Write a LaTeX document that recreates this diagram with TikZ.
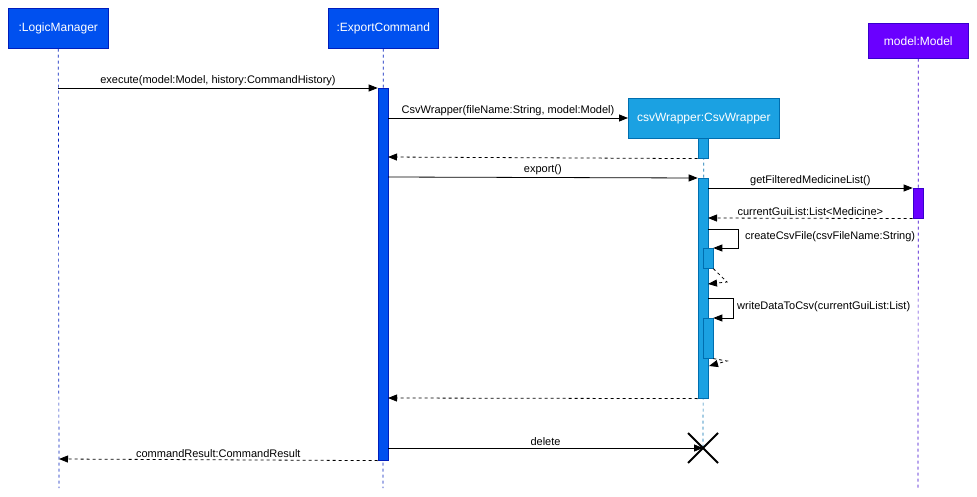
\documentclass[tikz,border=0pt]{standalone}
\usepackage{fontspec}
\setmainfont{Liberation Sans}
\usetikzlibrary{arrows.meta}
\definecolor{bluefill}{HTML}{0050EF}
\definecolor{bluestroke}{HTML}{001DBC}
\definecolor{cyanfill}{HTML}{1BA1E2}
\definecolor{cyanstroke}{HTML}{006EAF}
\definecolor{violetfill}{HTML}{6A00FF}
\definecolor{violetstroke}{HTML}{3700CC}
\begin{document}
\begin{tikzpicture}[x=1pt,y=-1pt,
  objbox/.style={draw=#1stroke,fill=#1fill,line width=0.6pt,text=white,font=\fontsize{12}{14}\selectfont,inner sep=0pt,anchor=north west},
  life/.style={draw=#1stroke,line width=0.7pt,dash pattern=on 3pt off 3pt},
  act/.style={draw=#1stroke,fill=#1fill,line width=0.6pt,inner sep=0pt,minimum width=10pt,anchor=north},
  msg/.style={line width=0.8pt,-{Triangle[length=9pt,width=7pt]}},
  ret/.style={msg,dash pattern=on 3pt off 3pt},
  lbl/.style={font=\fontsize{11}{13}\selectfont,above,inner sep=2pt}
]
\useasboundingbox (0,0) rectangle (977,497);
% object boxes
\node[objbox=blue,minimum width=100pt,minimum height=40pt] (lm) at (8,8) {:LogicManager};
\node[objbox=blue,minimum width=110pt,minimum height=40pt] (ec) at (328,8) {:ExportCommand};
\node[objbox=violet,minimum width=100pt,minimum height=35pt] (md) at (868,23) {model:Model};
\node[objbox=cyan,minimum width=151pt,minimum height=40pt] (cw) at (628,98) {csvWrapper:CsvWrapper};
% lifeline ends
\coordinate (lmend) at (59,488);
\coordinate (ecend) at (383,488);
\coordinate (mdend) at (918,488);
\coordinate (cwend) at (703,448);
\draw[life=blue] (lm.south) -- (lmend);
\draw[life=blue] (ec.south) -- (ecend);
\draw[life=violet] (md.south) -- (mdend);
\draw[life=cyan] (cw.south) -- (cwend);
% activations
\node[act=blue,minimum height=372pt] (ecact) at (383,88) {};
\node[act=cyan,minimum height=20pt] (cwact1) at (703,138) {};
\node[act=cyan,minimum height=220pt] (cwact2) at (703,178) {};
\node[act=violet,minimum height=30pt] (mdact) at (918,188) {};
\node[act=cyan,minimum height=20pt] (cwn1) at (708,248) {};
\node[act=cyan,minimum height=40pt] (cwn2) at (708,318) {};
% messages
\coordinate (p1) at (lm.south |- 0,88);
\draw[msg] (p1) -- node[lbl]{execute(model:Model, history:CommandHistory)} (ecact.north west);
\coordinate (p2) at (388,118);
\coordinate (p2e) at (628,118);
\draw[msg] (p2) -- node[lbl]{CsvWrapper(fileName:String, model:Model)} (p2e);
\coordinate (p3) at (388,157);
\draw[ret] (cwact1.south west) -- (p3);
\coordinate (p4) at (388,177);
\draw[msg] (p4) -- node[lbl]{export()} (cwact2.north west);
\coordinate (p5) at (708,188);
\draw[msg] (p5) -- node[lbl]{getFilteredMedicineList()} (mdact.north west);
\coordinate (p6) at (708,218);
\draw[ret] (mdact.south west) -- node[lbl]{currentGuiList:List<Medicine>} (p6);
% self call 1
\coordinate (s1a) at (708,229);
\coordinate (s1b) at (738,229);
\coordinate (s1c) at (738,248);
\draw[msg] (s1a) -- (s1b) -- (s1c) -- (cwn1.north east);
\node[font=\fontsize{11}{13}\selectfont,anchor=west,inner sep=0pt] (l1) at (745,237) {createCsvFile(csvFileName:String)};
\coordinate (r1a) at (727,282);
\coordinate (r1b) at (708,284);
\draw[ret] (cwn1.south east) -- (r1a) -- (r1b);
% self call 2
\coordinate (s2a) at (708,298);
\coordinate (s2b) at (733,298);
\coordinate (s2c) at (733,318);
\draw[msg] (s2a) -- (s2b) -- (s2c) -- (cwn2.north east);
\node[font=\fontsize{11}{13}\selectfont,anchor=west,inner sep=0pt] (l2) at (737,307) {writeDataToCsv(currentGuiList:List)};
\coordinate (r2a) at (727,361);
\coordinate (r2b) at (709,366);
\draw[ret] (cwn2.south east) -- (r2a) -- (r2b);
% return to export command
\coordinate (p7) at (388,398);
\draw[ret] (cwact2.south west) -- (p7);
% delete
\coordinate (p8) at (388,448);
\draw[msg] (p8) -- node[lbl]{delete} (cwend);
\draw[line width=2pt] (688,433) -- (718,463) (688,463) -- (718,433);
% final return
\coordinate (p9) at (59,459);
\draw[ret] (ecact.south west) -- node[lbl]{commandResult:CommandResult} (p9);
\end{tikzpicture}
\end{document}
